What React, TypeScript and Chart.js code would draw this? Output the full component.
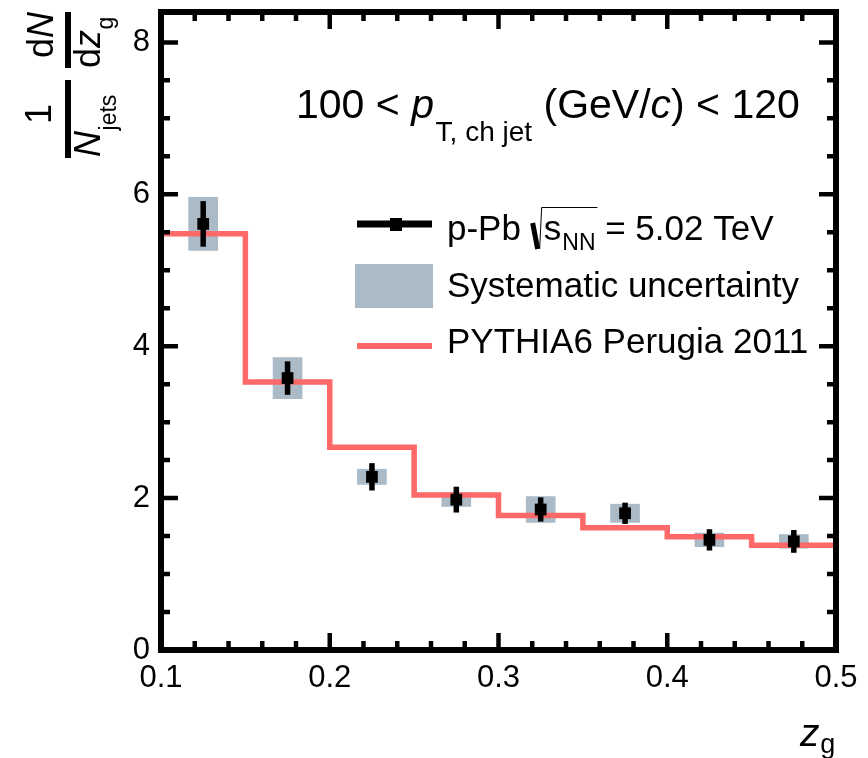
import React, { useEffect, useRef } from 'react';
import { Chart, registerables } from 'chart.js';

Chart.register(...registerables);

// ---------------- data ----------------
const binCenters = [0.125, 0.175, 0.225, 0.275, 0.325, 0.375, 0.425, 0.475];
const pPbValues = [5.61, 3.58, 2.28, 1.98, 1.85, 1.8, 1.45, 1.43];
const statErrors = [0.3, 0.22, 0.18, 0.17, 0.16, 0.14, 0.14, 0.15];
const sysErrors = [0.35, 0.27, 0.1, 0.09, 0.17, 0.12, 0.09, 0.09];
const binEdges = [0.1, 0.15, 0.2, 0.25, 0.3, 0.35, 0.4, 0.45, 0.5];
const pythiaValues = [5.48, 3.53, 2.67, 2.04, 1.77, 1.61, 1.49, 1.38];
const xTickValues = [0.1, 0.2, 0.3, 0.4, 0.5];
const xTickLabels = ['0.1', '0.2', '0.3', '0.4', '0.5'];
const yTickValues = [0, 2, 4, 6, 8];
const yTickLabels = ['0', '2', '4', '6', '8'];
const X_MIN = 0.1;
const X_MAX = 0.5;
const Y_MIN = 0;
const Y_MAX = 8.4;
const X_MINOR_STEP = 0.02;
const X_MAJOR_STEP = 0.1;
const Y_MINOR_STEP = 0.5;
const Y_MAJOR_STEP = 2;

// ---------------- styles ----------------
const FONT = '"Liberation Sans", Arial, Helvetica, sans-serif';
const RED = 'rgb(253,104,104)';
const SYS_COLOR = 'rgb(170,186,198)';

function isMultiple(v: number, step: number) {
  const r = v / step;
  return Math.abs(r - Math.round(r)) < 1e-6;
}

const errorBarPlugin = {
  id: 'errorBars',
  afterDatasetsDraw(chart: any) {
    const { ctx, scales } = chart;
    const xs = scales.x;
    const ys = scales.y;
    ctx.save();
    ctx.strokeStyle = '#000';
    ctx.lineWidth = 5.5;
    ctx.lineCap = 'butt';
    for (let i = 0; i < binCenters.length; i++) {
      const px = xs.getPixelForValue(binCenters[i]);
      const y1 = ys.getPixelForValue(pPbValues[i] - statErrors[i]);
      const y2 = ys.getPixelForValue(pPbValues[i] + statErrors[i]);
      ctx.beginPath();
      ctx.moveTo(px, y1);
      ctx.lineTo(px, y2);
      ctx.stroke();
    }
    ctx.restore();
  },
};

const framePlugin = {
  id: 'frameAndText',
  afterDraw(chart: any) {
    const { ctx, chartArea, scales } = chart;
    const xs = scales.x;
    const ys = scales.y;
    const { left, right, top, bottom } = chartArea;
    ctx.save();
    // ticks
    ctx.strokeStyle = '#000';
    ctx.lineWidth = 4.5;
    ctx.lineCap = 'butt';
    const nX = Math.round((X_MAX - X_MIN) / X_MINOR_STEP);
    for (let k = 0; k <= nX; k++) {
      const v = X_MIN + k * X_MINOR_STEP;
      const major = isMultiple(v, X_MAJOR_STEP);
      const len = major ? 17 : 9;
      const px = xs.getPixelForValue(v);
      ctx.beginPath();
      ctx.moveTo(px, bottom);
      ctx.lineTo(px, bottom - len);
      ctx.moveTo(px, top);
      ctx.lineTo(px, top + len);
      ctx.stroke();
    }
    const nY = Math.floor((Y_MAX - Y_MIN) / Y_MINOR_STEP + 1e-6);
    for (let k = 0; k <= nY; k++) {
      const v = Y_MIN + k * Y_MINOR_STEP;
      const major = isMultiple(v, Y_MAJOR_STEP);
      const len = major ? 17 : 9;
      const py = ys.getPixelForValue(v);
      ctx.beginPath();
      ctx.moveTo(left, py);
      ctx.lineTo(left + len, py);
      ctx.moveTo(right, py);
      ctx.lineTo(right - len, py);
      ctx.stroke();
    }
    // frame
    ctx.lineWidth = 6;
    ctx.lineJoin = 'miter';
    ctx.strokeRect(left, top, right - left, bottom - top);

    ctx.fillStyle = '#000';
    ctx.textAlign = 'left';
    ctx.textBaseline = 'alphabetic';

    const run = (parts: Array<[string, string, number]>, x0: number, base: number) => {
      let x = x0;
      for (const [txt, font, dy] of parts) {
        ctx.font = font;
        ctx.fillText(txt, x, base + dy);
        x += ctx.measureText(txt).width;
      }
      return x;
    };

    // title
    run(
      [
        ['100 < ', `41px ${FONT}`, 0],
        ['p', `italic 41px ${FONT}`, 0],
        [' ', `6px ${FONT}`, 0],
        ['T, ch jet', `28px ${FONT}`, 23],
        [' (GeV/', `41px ${FONT}`, 0],
        ['c', `italic 41px ${FONT}`, 0],
        [') < 120', `41px ${FONT}`, 0],
      ],
      296,
      118
    );

    // legend symbols
    ctx.strokeStyle = '#000';
    ctx.lineWidth = 7;
    ctx.beginPath();
    ctx.moveTo(357, 224);
    ctx.lineTo(432, 224);
    ctx.stroke();
    ctx.fillRect(390, 218, 12, 13);

    ctx.fillStyle = SYS_COLOR;
    ctx.fillRect(355, 264, 78, 44);

    ctx.strokeStyle = RED;
    ctx.lineWidth = 6;
    ctx.beginPath();
    ctx.moveTo(357, 346);
    ctx.lineTo(432, 346);
    ctx.stroke();

    // legend texts
    ctx.fillStyle = '#000';
    const afterPPb = run([['p-Pb ', `35px ${FONT}`, 0]], 447, 240);
    const sx = afterPPb + 1;
    ctx.strokeStyle = '#000';
    ctx.lineWidth = 5;
    ctx.beginPath();
    ctx.moveTo(sx + 1, 223);
    ctx.lineTo(sx + 6, 249);
    ctx.stroke();
    ctx.lineWidth = 1;
    ctx.beginPath();
    ctx.moveTo(sx + 8, 249);
    ctx.lineTo(sx + 10, 207.5);
    const rootStart = sx + 12;
    ctx.font = `35px ${FONT}`;
    const sW = ctx.measureText('s').width;
    ctx.font = `23px ${FONT}`;
    const nnW = ctx.measureText('NN').width;
    ctx.lineTo(rootStart + sW + 2 + nnW + 1, 207.5);
    ctx.stroke();
    run(
      [
        ['s', `35px ${FONT}`, 0],
        [' ', `4px ${FONT}`, 0],
        ['NN', `23px ${FONT}`, 10],
        [' = 5.02 TeV', `35px ${FONT}`, 0],
      ],
      rootStart,
      240
    );
    run([['Systematic uncertainty', `35px ${FONT}`, 0]], 447, 297);
    run([['PYTHIA6 Perugia 2011', `35px ${FONT}`, 0]], 447, 353);

    // x axis title
    run(
      [
        ['z', `italic 39px ${FONT}`, 0],
        [' ', `3px ${FONT}`, 0],
        ['g', `27px ${FONT}`, 7],
      ],
      800,
      746
    );

    // y axis title (rotated; a = -screenY, b = screenX)
    ctx.save();
    ctx.rotate(-Math.PI / 2);
    const runR = (parts: Array<[string, string, number]>, a0: number, b: number) => {
      let a = a0;
      for (const [txt, font, db] of parts) {
        ctx.font = font;
        ctx.fillText(txt, a, b + db);
        a += ctx.measureText(txt).width;
      }
      return a;
    };
    const widthOf = (parts: Array<[string, string, number]>) => {
      let w = 0;
      for (const [txt, font] of parts) {
        ctx.font = font;
        w += ctx.measureText(txt).width;
      }
      return w;
    };
    ctx.strokeStyle = '#000';
    ctx.lineWidth = 6;
    ctx.beginPath();
    ctx.moveTo(-158, 68);
    ctx.lineTo(-80, 68);
    ctx.moveTo(-68, 68);
    ctx.lineTo(-12, 68);
    ctx.stroke();
    const num1: Array<[string, string, number]> = [['1', `36px ${FONT}`, 0]];
    runR(num1, -114 - widthOf(num1) / 2, 51);
    runR(
      [
        ['N', `italic 36px ${FONT}`, 0],
        [' ', `2px ${FONT}`, 0],
        ['jets', `23px ${FONT}`, 16],
      ],
      -157,
      100
    );
    const num2: Array<[string, string, number]> = [
      ['d', `36px ${FONT}`, 0],
      ['N', `italic 36px ${FONT}`, 0],
    ];
    runR(num2, -35 - widthOf(num2) / 2, 53);
    runR(
      [
        ['d', `36px ${FONT}`, 0],
        ['z', `italic 36px ${FONT}`, 0],
        [' ', `2px ${FONT}`, 0],
        ['g', `23px ${FONT}`, 13],
      ],
      -68,
      100
    );
    ctx.restore();

    ctx.restore();
  },
};

export default function App() {
  const canvasRef = useRef<HTMLCanvasElement | null>(null);

  useEffect(() => {
    if (!canvasRef.current) return;
    const sysData = binCenters.map((x, i) => ({
      x,
      y: [pPbValues[i] - sysErrors[i], pPbValues[i] + sysErrors[i]],
    }));
    const pythiaData = binEdges.map((x, i) => ({
      x,
      y: pythiaValues[Math.min(i, pythiaValues.length - 1)],
    }));
    const pointData = binCenters.map((x, i) => ({ x, y: pPbValues[i] }));

    const chart = new Chart(canvasRef.current, {
      data: {
        datasets: [
          {
            type: 'bar',
            label: 'Systematic uncertainty',
            data: sysData as any,
            backgroundColor: SYS_COLOR,
            borderWidth: 0,
            barThickness: 29,
            order: 3,
          },
          {
            type: 'line',
            label: 'PYTHIA6 Perugia 2011',
            data: pythiaData,
            stepped: 'before',
            borderColor: RED,
            borderWidth: 5.5,
            borderCapStyle: 'butt',
            borderJoinStyle: 'miter',
            pointRadius: 0,
            fill: false,
            order: 2,
          },
          {
            type: 'scatter',
            label: 'p-Pb',
            data: pointData,
            pointStyle: 'rect',
            pointRadius: 8.3,
            backgroundColor: '#000',
            borderWidth: 0,
            order: 1,
          },
        ] as any,
      },
      options: {
        responsive: false,
        animation: false,
        devicePixelRatio: 1,
        layout: { padding: { top: 12, right: 32, left: 0, bottom: 0 } },
        plugins: {
          legend: { display: false },
          tooltip: { enabled: false },
          title: { display: false },
        },
        scales: {
          x: {
            type: 'linear',
            min: X_MIN,
            max: X_MAX,
            offset: false,
            grid: { display: false, drawTicks: false, offset: false },
            border: { display: false },
            afterBuildTicks: (s: any) => {
              s.ticks = xTickValues.map((value) => ({ value }));
            },
            afterFit: (s: any) => {
              s.height = 108;
              s.paddingLeft = 0;
              s.paddingRight = 0;
            },
            ticks: {
              autoSkip: false,
              maxRotation: 0,
              padding: 10,
              color: '#000',
              font: { family: FONT, size: 31 },
              callback: (_v: any, i: number) => xTickLabels[i],
            },
          },
          y: {
            type: 'linear',
            min: Y_MIN,
            max: Y_MAX,
            grid: { display: false, drawTicks: false },
            border: { display: false },
            afterBuildTicks: (s: any) => {
              s.ticks = yTickValues.map((value) => ({ value }));
            },
            afterFit: (s: any) => {
              s.width = 161;
              s.paddingTop = 0;
              s.paddingBottom = 0;
            },
            ticks: {
              autoSkip: false,
              padding: 11,
              color: '#000',
              font: { family: FONT, size: 31 },
              callback: (_v: any, i: number) => yTickLabels[i],
            },
          },
        },
      } as any,
      plugins: [errorBarPlugin, framePlugin],
    });
    return () => chart.destroy();
  }, []);

  return (
    <div style={{ position: 'absolute', left: 0, top: 0, width: 868, height: 758, background: '#fff' }}>
      <canvas ref={canvasRef} width={868} height={758} style={{ display: 'block' }} />
    </div>
  );
}
